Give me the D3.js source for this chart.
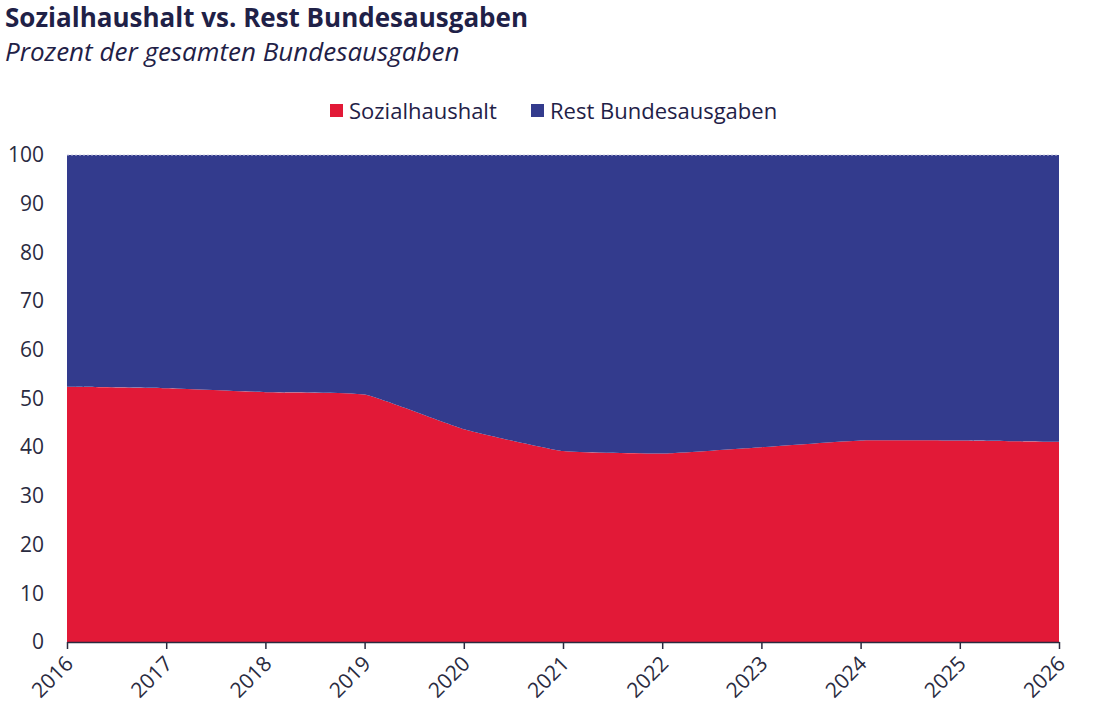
<!DOCTYPE html>
<meta charset="utf-8">
<head>
<script src="https://d3js.org/d3.v7.min.js"></script>
<style>
  body { margin: 0; background: #fff; }
  text { font-family: "Open Sans", sans-serif; }
</style>
</head>
<body>
<svg id="chart"></svg>
<script>
// data
var years = [2016, 2017, 2018, 2019, 2020, 2021, 2022, 2023, 2024, 2025, 2026];
var sozial = [52.4, 52.1, 51.3, 50.8, 43.7, 39.2, 38.7, 40.0, 41.4, 41.4, 41.1];
var rest = [47.6, 47.9, 48.7, 49.2, 56.3, 60.8, 61.3, 60.0, 58.6, 58.6, 58.9];
var seriesNames = ["Sozialhaushalt", "Rest Bundesausgaben"];
var yTicks = [0, 10, 20, 30, 40, 50, 60, 70, 80, 90, 100];

var W = 1097, H = 718;
var red = "#e21937", blue = "#333b8d", ink = "#1f2147";

var svg = d3.select("#chart").attr("width", W).attr("height", H);

var x = d3.scaleLinear().domain([2016, 2026]).range([67, 1059]);
var y = d3.scaleLinear().domain([0, 100]).range([642, 155]);

var table = years.map(function(yr, i){
  return {year: yr, Sozialhaushalt: sozial[i], "Rest Bundesausgaben": rest[i]};
});
var stack = d3.stack().keys(seriesNames)(table);
var colors = d3.scaleOrdinal().domain(seriesNames).range([red, blue]);

var area = d3.area()
  .x(function(d){ return x(d.data.year); })
  .y0(function(d){ return y(d[0]); })
  .y1(function(d){ return y(d[1]); })
  .curve(d3.curveCardinal.tension(0.6));

svg.selectAll("path.layer")
  .data(stack)
  .join("path")
  .attr("class", "layer")
  .attr("fill", function(d){ return colors(d.key); })
  .attr("d", area);

// dotted line on top at 100
svg.append("line")
  .attr("x1", x(2016)).attr("x2", x(2026))
  .attr("y1", y(100)).attr("y2", y(100))
  .attr("stroke", "#c9cbe0").attr("stroke-width", 1)
  .attr("stroke-dasharray", "2,2");

// y axis (labels only)
var yAxis = svg.append("g")
  .attr("transform", "translate(" + 44 + ",0)")
  .call(d3.axisLeft(y).tickValues(yTicks).tickSize(0).tickPadding(0));
yAxis.select(".domain").remove();
yAxis.selectAll("text")
  .attr("font-size", 21).attr("fill", "#2a2b3f")
  .attr("font-family", "Open Sans, sans-serif");

// x axis
var xAxis = svg.append("g")
  .attr("transform", "translate(0," + y(0) + ")")
  .call(d3.axisBottom(x).tickValues(years).tickFormat(d3.format("d")).tickSize(7).tickSizeOuter(0));
xAxis.select(".domain").attr("stroke", "#2a2b3f").attr("stroke-width", 1.5);
xAxis.selectAll(".tick line").attr("stroke", "#2a2b3f").attr("stroke-width", 1.5);
xAxis.selectAll("text")
  .attr("font-size", 21).attr("fill", "#2a2b3f")
  .attr("font-family", "Open Sans, sans-serif")
  .attr("text-anchor", "end")
  .attr("dy", null).attr("y", 0)
  .attr("transform", "translate(7,23) rotate(-45)");

// title + subtitle
svg.append("text")
  .attr("x", 5).attr("y", 27)
  .attr("font-size", 26).attr("font-weight", "bold").attr("fill", ink)
  .text("Sozialhaushalt vs. Rest Bundesausgaben");
svg.append("text")
  .attr("x", 5).attr("y", 61)
  .attr("font-size", 26).attr("font-style", "italic").attr("fill", ink)
  .text("Prozent der gesamten Bundesausgaben");

// legend
var legendX = [330, 531];
var leg = svg.selectAll("g.legend")
  .data(seriesNames)
  .join("g")
  .attr("class", "legend")
  .attr("transform", function(d, i){ return "translate(" + legendX[i] + ",104)"; });
leg.append("rect")
  .attr("width", 13).attr("height", 13)
  .attr("fill", function(d){ return colors(d); });
leg.append("text")
  .attr("x", 19).attr("y", 14.5)
  .attr("font-size", 22).attr("fill", ink)
  .text(function(d){ return d; });
</script>
</body>
</html>
